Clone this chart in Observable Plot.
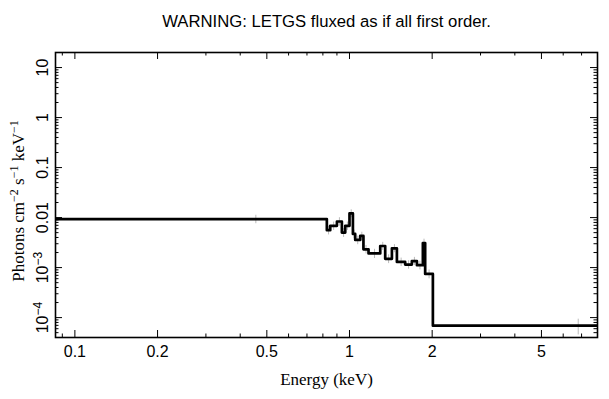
<!DOCTYPE html>
<html><head><meta charset="utf-8">
<script src="https://cdn.jsdelivr.net/npm/d3@7"></script>
<script src="https://cdn.jsdelivr.net/npm/@observablehq/plot@0.6"></script>
<style>body{margin:0;background:#fff}</style>
</head><body><div id="chart"></div>
<script>
// Bin edges (keV) and flux (photons cm^-2 s^-1 keV^-1)
const binEdges = [0.085, 0.827, 0.851, 0.900, 0.938, 0.965, 1.000, 1.029, 1.049, 1.094, 1.124,
  1.173, 1.294, 1.349, 1.427, 1.488, 1.595, 1.687, 1.760, 1.850, 1.886, 2.012, 11.6];
const flux = [0.00933, 0.00560, 0.00684, 0.00834, 0.00501, 0.00684, 0.0121, 0.00471, 0.00357, 0.00430,
  0.00232, 0.00192, 0.00270, 0.00150, 0.00243, 0.00130, 0.00115, 0.00135, 0.00112, 0.00310, 0.000746, 0.000069];
const fluxErr = [0.0018, 0.0011, 0.0013, 0.0016, 0.0010, 0.0013, 0.0022, 0.0009, 0.0007, 0.0008,
  0.00045, 0.0004, 0.0005, 0.0003, 0.00045, 0.00025, 0.00022, 0.00025, 0.00022, 0.0006, 0.00015, 0.000024];

const xTicks = [0.1, 0.2, 0.5, 1, 2, 5];
const xTickLabels = ["0.1", "0.2", "0.5", "1", "2", "5"];
const yTicks = [1e-4, 1e-3, 0.01, 0.1, 1, 10];
const yTickLabels = ["10^{−4}", "10^{−3}", "0.01", "0.1", "1", "10"];

const titleText = "WARNING: LETGS fluxed as if all first order.";
const xLabel = "Energy (keV)";
const yLabel = "Photons cm^{−2} s^{−1} keV^{−1}";

const W = 609, H = 399;
const mL = 55, mR = 12, mT = 52, mB = 62;
const fw = W - mL - mR, fh = H - mT - mB;
const xDomain = [0.085, 8], yDomain = [4e-5, 20];

// step-line points
const steps = flux.map((f, i) => ({x: binEdges[i], y: f}));
steps.push({x: binEdges[binEdges.length - 1], y: flux[flux.length - 1]});
const bars = flux.map((f, i) => ({x: (binEdges[i] + binEdges[i + 1]) / 2, lo: f - fluxErr[i], hi: f + fluxErr[i]}));

const xMinor = d3.scaleLog().domain(xDomain).ticks().filter(t => !xTicks.includes(t));
const yAll = d3.scaleLog().domain(yDomain).ticks();
const yMinor = yAll.filter(t => !yTicks.some(v => Math.abs(v - t) / t < 1e-6));

const sans = "Liberation Sans, Arial, Helvetica, sans-serif";
const serif = "Liberation Serif, Times New Roman, serif";
const MAJ = 7, MIN = 3.5;

const chart = Plot.plot({
  width: W, height: H,
  marginLeft: mL, marginRight: mR, marginTop: mT, marginBottom: mB,
  style: {fontFamily: sans, fontSize: "16px", background: "#fff", color: "#000"},
  x: {type: "log", domain: xDomain},
  y: {type: "log", domain: yDomain},
  marks: [
    // error bars
    Plot.ruleX(bars, {x: "x", y1: "lo", y2: "hi", stroke: "#bbbbbb", strokeWidth: 1, clip: true}),
    // spectrum
    Plot.line(steps, {x: "x", y: "y", curve: "step-after", stroke: "#000", strokeWidth: 2.7, clip: true}),
    // ticks: bottom / top
    Plot.ruleX(xTicks, {x: d => d, insetTop: fh - MAJ, stroke: "#000"}),
    Plot.ruleX(xTicks, {x: d => d, insetBottom: fh - MAJ, stroke: "#000"}),
    Plot.ruleX(xMinor, {x: d => d, insetTop: fh - MIN, stroke: "#000"}),
    Plot.ruleX(xMinor, {x: d => d, insetBottom: fh - MIN, stroke: "#000"}),
    // ticks: left / right
    Plot.ruleY(yTicks, {y: d => d, insetRight: fw - MAJ, stroke: "#000"}),
    Plot.ruleY(yTicks, {y: d => d, insetLeft: fw - MAJ, stroke: "#000"}),
    Plot.ruleY(yMinor, {y: d => d, insetRight: fw - MIN, stroke: "#000"}),
    Plot.ruleY(yMinor, {y: d => d, insetLeft: fw - MIN, stroke: "#000"}),
    Plot.frame({stroke: "#000", strokeWidth: 1.6}),
    // tick labels
    Plot.axisX({ticks: xTicks, tickFormat: d => xTickLabels[xTicks.indexOf(d)], tickSize: 0, tickPadding: 8, label: null, fontSize: 16}),
    Plot.axisY({ticks: yTicks, tickFormat: d => yTickLabels[yTicks.findIndex(v => Math.abs(v - d) / d < 1e-6)], tickSize: 0, tickPadding: 8, tickRotate: -90, label: null, fontSize: 16}),
    // titles
    Plot.text([titleText], {frameAnchor: "top", dy: -37, fontSize: 16.7, fontFamily: sans}),
    Plot.text([xLabel], {frameAnchor: "bottom", dy: 47, fontSize: 17, fontFamily: serif}),
    Plot.text([yLabel], {frameAnchor: "left", dx: -37, dy: 6, rotate: -90, textAnchor: "middle", fontSize: 17, fontFamily: serif})
  ]
});

// turn ^{...} into raised tspans
const NS = "http://www.w3.org/2000/svg";
chart.querySelectorAll("text").forEach(el => {
  const s = el.textContent;
  if (!s.includes("^{")) return;
  el.textContent = "";
  const parts = s.split(/(\^\{[^}]*\})/).filter(p => p);
  let raised = false;
  for (const p of parts) {
    const t = document.createElementNS(NS, "tspan");
    if (p.startsWith("^{")) {
      t.textContent = p.slice(2, -1);
      t.setAttribute("font-size", "12px");
      t.setAttribute("dy", "-6");
      raised = true;
    } else {
      t.textContent = p;
      if (raised) { t.setAttribute("dy", "6"); raised = false; }
    }
    el.appendChild(t);
  }
});

document.getElementById("chart").appendChild(chart);
</script>
</body></html>
